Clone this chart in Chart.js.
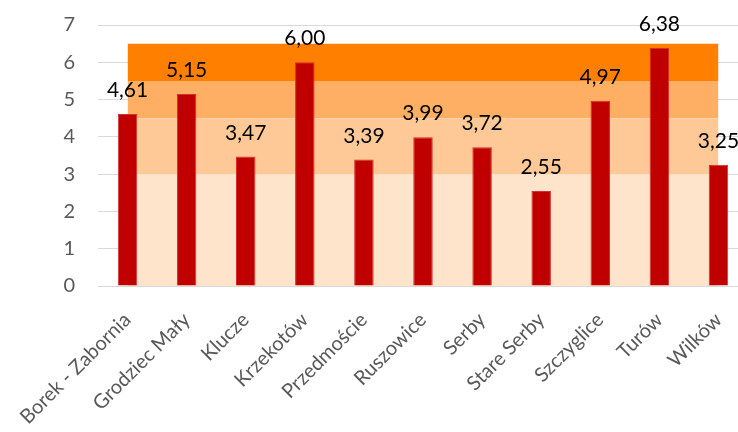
<!DOCTYPE html>
<html>
<head>
<meta charset="utf-8">
<script src="https://cdn.jsdelivr.net/npm/chart.js@4/dist/chart.umd.min.js"></script>
<style>
html,body{margin:0;padding:0;background:#fff;overflow:hidden;width:738px;height:432px;}
#wrap{width:750px;height:432px;}
</style>
</head>
<body>
<div id="wrap"><canvas id="c" width="750" height="432"></canvas></div>
<script>
const categories = ["Borek - Zabornia","Grodziec Mały","Klucze","Krzekotów","Przedmoście","Ruszowice","Serby","Stare Serby","Szczyglice","Turów","Wilków"];
const values = [4.61, 5.15, 3.47, 6.00, 3.39, 3.99, 3.72, 2.55, 4.97, 6.38, 3.25];
const bandTops = [3, 4.5, 5.5, 6.5];
const bandColors = ["#FDE4CB", "#FEC996", "#FFAF63", "#FF7F00"];
const yTicks = [0,1,2,3,4,5,6,7];

const FONT = "Lato, 'Liberation Sans', sans-serif";

const bandDatasets = bandTops.map((t, i) => ({
  type: 'line',
  data: categories.map(() => t),
  backgroundColor: bandColors[i],
  borderWidth: 0,
  borderColor: 'rgba(0,0,0,0)',
  pointRadius: 0,
  fill: i === 0 ? 'origin' : '-1',
  order: 10 + i,
  tension: 0
}));

const labelPlugin = {
  id: 'valLabels',
  afterDatasetsDraw(chart) {
    const ctx = chart.ctx;
    const meta = chart.getDatasetMeta(0);
    ctx.save();
    ctx.font = "21px " + FONT;
    ctx.fillStyle = "#000";
    ctx.textAlign = "center";
    ctx.textBaseline = "alphabetic";
    meta.data.forEach((bar, i) => {
      const txt = values[i].toFixed(2).replace('.', ',');
      ctx.fillText(txt, bar.x, bar.y - 17);
    });
    ctx.restore();
  }
};

new Chart(document.getElementById('c'), {
  data: {
    labels: categories,
    datasets: [
      {
        type: 'bar',
        data: values,
        backgroundColor: '#C00000',
        borderColor: '#D23030',
        borderWidth: 1,
        barPercentage: 0.33,
        categoryPercentage: 1,
        order: 0
      },
      ...bandDatasets
    ]
  },
  options: {
    responsive: false,
    animation: false,
    layout: { padding: { top: 25, right: 2, left: 0, bottom: 0 } },
    plugins: { legend: { display: false }, tooltip: { enabled: false } },
    scales: {
      x: {
        grid: { display: false, drawTicks: false },
        border: { display: true, color: '#D9D9D9', width: 1 },
        ticks: {
          minRotation: 45, maxRotation: 45,
          color: '#595959',
          font: { family: FONT, size: 20 },
          padding: 22,
          autoSkip: false
        },
        afterFit(scale) { scale.height = 146; scale.paddingLeft = 0; scale.paddingRight = 0; }
      },
      y: {
        min: 0, max: 7,
        afterBuildTicks(scale) { scale.ticks = yTicks.map(v => ({ value: v })); },
        grid: { color: '#D9D9D9', lineWidth: 1, drawTicks: false },
        border: { display: false },
        ticks: {
          color: '#595959',
          font: { family: FONT, size: 20 },
          padding: 23
        },
        afterFit(scale) { scale.width = 98; scale.paddingTop = 0; scale.paddingBottom = 0; }
      }
    }
  },
  plugins: [labelPlugin]
});
</script>
</body>
</html>
